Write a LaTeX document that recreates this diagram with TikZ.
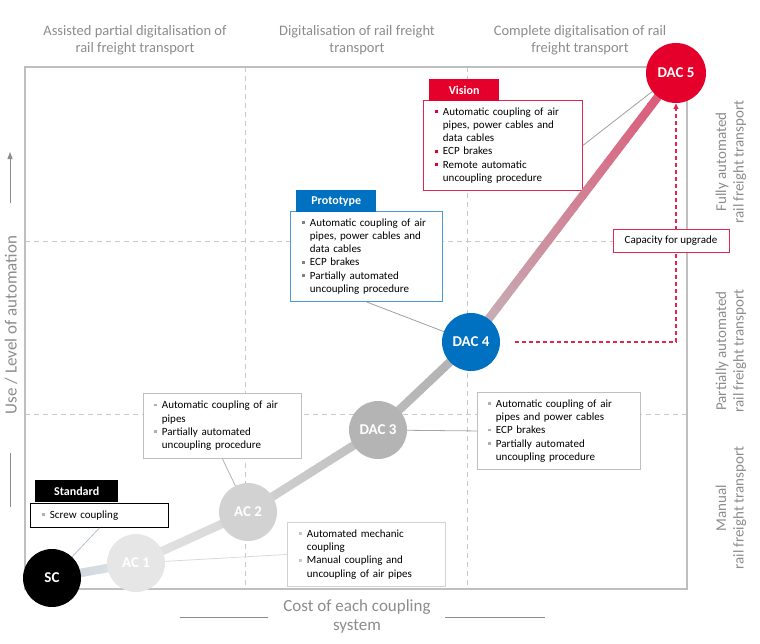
\documentclass[tikz,border=0pt]{standalone}
\usepackage{fontspec}
\setmainfont{Carlito}
\usetikzlibrary{arrows.meta,calc}
\definecolor{dred}{HTML}{E4002B}
\definecolor{bred}{HTML}{E0284F}
\definecolor{dblue}{HTML}{0070C0}
\definecolor{bblue}{HTML}{4A9AD8}
\definecolor{framegray}{HTML}{BFBFBF}
\definecolor{gridgray}{HTML}{C8C8C8}
\definecolor{labgray}{HTML}{8C8C8C}
\definecolor{cac1}{HTML}{E6E6E6}
\definecolor{cac2}{HTML}{D2D2D2}
\definecolor{cdac3}{HTML}{B4B4B4}
\definecolor{bulgray}{HTML}{B0B0B0}
\definecolor{bulproto}{HTML}{808080}
\definecolor{connblue}{HTML}{B4C0D0}
\definecolor{ga}{HTML}{C9D1DC}
\definecolor{gb}{HTML}{E2E5E9}
\definecolor{gc}{HTML}{E4E4E4}
\definecolor{gd}{HTML}{D6D6D6}
\definecolor{ge}{HTML}{D2D2D2}
\definecolor{gf}{HTML}{BEBEBE}
\definecolor{gg}{HTML}{BCBCBC}
\definecolor{gh}{HTML}{B0B0B0}
\definecolor{gi}{HTML}{C4B4BA}
\definecolor{gj}{HTML}{DC5575}
\newcommand{\bl}[1]{\makebox[7.5pt][l]{\textcolor{#1}{\rule[2.4pt]{2.6pt}{2.6pt}}}}
\newcommand{\ind}{\hspace*{7.5pt}}
\newcommand{\gseg}[4]{%
  \foreach \i in {0,...,23}{%
    \pgfmathtruncatemacro{\p}{100-100*(\i+0.5)/24}%
    \draw[line width=8.5pt, color=#3!\p!#4] ($(#1)!{\i/24}!(#2)$) -- ($(#1)!{(\i+1.08)/24}!(#2)$);
  }}
\tikzset{
  circ/.style={circle, minimum size=58pt, inner sep=0pt, text=white, font=\fontsize{15}{15}\selectfont\bfseries},
  infobox/.style={draw, fill=white, line width=0.9pt, anchor=north west, align=left, font=\fontsize{11}{13.3}\selectfont, inner ysep=0pt},
  header/.style={anchor=north west, text=white, font=\fontsize{12}{12}\selectfont\bfseries, inner sep=0pt},
  gridline/.style={gridgray, dash pattern=on 5pt off 4pt, line width=0.7pt},
  conn/.style={draw=gray!75, line width=0.8pt},
  lab/.style={text=labgray, align=center},
}
\begin{document}
\begin{tikzpicture}[x=1pt,y=-1pt]
\useasboundingbox (0,0) rectangle (760,643);
% grid
\draw[gridline] (245,67) -- (245,589);
\draw[gridline] (467,67) -- (467,589);
\draw[gridline] (25,241) -- (687,241);
\draw[gridline] (25,414) -- (687,414);
% frame
\draw[framegray, line width=1.3pt] (25,67) rectangle (687,589);
% coordinates of circles
\coordinate (psc) at (52,578);
\coordinate (pac1) at (136,563);
\coordinate (pac2) at (248,512);
\coordinate (pdac3) at (378,430);
\coordinate (pdac4) at (471,342);
\coordinate (pdac5) at (676,73);
% info boxes
\node[infobox, draw=bred, minimum width=159pt, minimum height=90pt, text width=135pt, inner xsep=12pt] (visionbox) at (423,100)
 {\bl{dred}Automatic coupling of air\\\ind pipes, power cables and\\\ind data cables\\\bl{dred}ECP brakes\\\bl{dred}Remote automatic\\\ind uncoupling procedure};
\node[infobox, draw=bblue, minimum width=152pt, minimum height=90pt, text width=128pt, inner xsep=12pt] (protobox) at (290,211)
 {\bl{bulproto}Automatic coupling of air\\\ind pipes, power cables and\\\ind data cables\\\bl{bulproto}ECP brakes\\\bl{bulproto}Partially automated\\\ind uncoupling procedure};
\node[infobox, draw=framegray, minimum width=158pt, minimum height=65pt, text width=136pt, inner xsep=11pt] (ac2box) at (143,393)
 {\bl{bulgray}Automatic coupling of air\\\ind pipes\\\bl{bulgray}Partially automated\\\ind uncoupling procedure};
\node[infobox, draw=framegray, minimum width=163pt, minimum height=77pt, text width=141pt, inner xsep=11pt] (dac3box) at (477,392)
 {\bl{bulgray}Automatic coupling of air\\\ind pipes and power cables\\\bl{bulgray}ECP brakes\\\bl{bulgray}Partially automated\\\ind uncoupling procedure};
\node[infobox, draw=framegray!70, minimum width=158pt, minimum height=64pt, text width=134pt, inner xsep=12pt] (ac1box) at (287,522)
 {\bl{bulgray!70}Automated mechanic\\\ind coupling\\\bl{bulgray!70}Manual coupling and\\\ind uncoupling of air pipes};
\node[infobox, draw=black, minimum width=138pt, minimum height=24pt, text width=114pt, inner xsep=12pt] (screwbox) at (30,503)
 {\bl{bulgray}Screw coupling};
% thin connectors
\draw[conn, draw=connblue] (screwbox.south) -- (psc);
\draw[conn, draw=gray!30] (ac1box.west) -- (pac1);
\draw[conn, draw=gray!60] (ac2box.south) -- (pac2);
\draw[conn, draw=gray!70] (dac3box.west) -- (pdac3);
\draw[conn] (protobox.south) -- (pdac4);
\draw[conn] (visionbox.east) -- (pdac5);
% thick curve
\gseg{psc}{pac1}{ga}{gb}
\gseg{pac1}{pac2}{gc}{gd}
\gseg{pac2}{pdac3}{ge}{gf}
\gseg{pdac3}{pdac4}{gg}{gh}
\gseg{pdac4}{pdac5}{gi}{gj}
% circles
\node[circ, fill=black] (sc) at (psc) {SC};
\node[circ, fill=cac1] (ac1) at (pac1) {AC 1};
\node[circ, fill=cac2] (ac2) at (pac2) {AC 2};
\node[circ, fill=cdac3] (dac3) at (pdac3) {DAC 3};
\node[circ, fill=dblue] (dac4) at (pdac4) {DAC 4};
\node[circ, fill=dred, minimum size=60pt] (dac5) at (pdac5) {DAC 5};
% headers
\node[header, fill=dred, minimum width=70pt, minimum height=22pt] (visionhead) at (429,79) {Vision};
\node[header, fill=dblue, minimum width=80pt, minimum height=22pt] (protohead) at (296,190) {Prototype};
\node[header, fill=black, minimum width=83pt, minimum height=22pt] (stdhead) at (35,480) {Standard};
% upgrade path
\coordinate (redstart) at (515,342);
\coordinate (redcorner) at (676,342);
\draw[bred, line width=1.3pt, dash pattern=on 4pt off 3pt, -{Triangle[length=6pt,width=5pt]}] (redstart) -- (redcorner) -- (dac5.south);
\node[draw=bred, fill=white, line width=1pt, minimum width=116pt, minimum height=23pt, inner sep=0pt, font=\fontsize{11}{12}\selectfont] (capbox) at (671,240.5) {Capacity for upgrade};
% top labels
\node[lab, font=\fontsize{14.5}{17}\selectfont] (toplab1) at (135,40) {Assisted partial digitalisation of\\rail freight transport};
\node[lab, font=\fontsize{14.5}{17}\selectfont] (toplab2) at (357,40) {Digitalisation of rail freight\\transport};
\node[lab, font=\fontsize{14.5}{17}\selectfont] (toplab3) at (580,40) {Complete digitalisation of rail\\freight transport};
% bottom axis
\node[lab, font=\fontsize{17}{19}\selectfont] (xlab) at (357,616) {Cost of each coupling\\system};
\draw[labgray, line width=1pt] (180,617) -- (268,617);
\draw[labgray, line width=1pt] (445,617) -- (545,617);
% left axis
\node[lab, font=\fontsize{17}{19}\selectfont, rotate=90] (ylab) at (11,325) {Use / Level of automation};
\draw[labgray, line width=1pt, -{Triangle[length=7pt,width=5pt]}] (10,203) -- (10,152);
\draw[labgray, line width=1pt] (10,453) -- (10,507);
% right labels
\node[lab, font=\fontsize{15}{17.5}\selectfont, rotate=90] (rlab1) at (731,162) {Fully automated\\rail freight transport};
\node[lab, font=\fontsize{15}{17.5}\selectfont, rotate=90] (rlab2) at (731,351) {Partially automated\\rail freight transport};
\node[lab, font=\fontsize{15}{17.5}\selectfont, rotate=90] (rlab3) at (731,508) {Manual\\rail freight transport};
\end{tikzpicture}
\end{document}
